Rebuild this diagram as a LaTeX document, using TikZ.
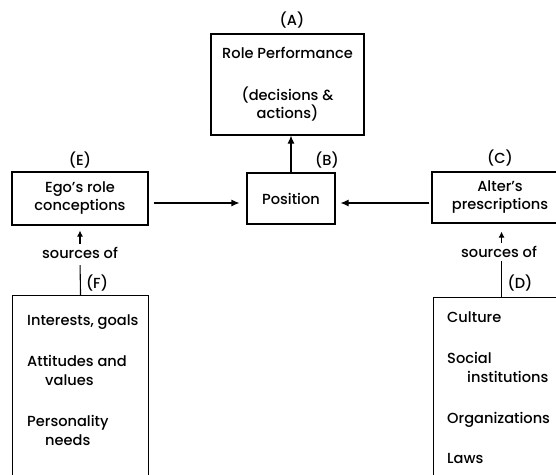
\documentclass[tikz,border=0pt]{standalone}
\usepackage{fontspec}
\setmainfont{Poppins}[UprightFont=* Medium]
\usetikzlibrary{arrows.meta}
\begin{document}
\begin{tikzpicture}[
    x=1pt, y=-1pt,
    font=\fontsize{14.6}{18}\selectfont,
    box/.style={rectangle, draw, line width=1.1pt, inner sep=0pt},
    lbl/.style={inner sep=1pt},
    list/.style={align=left, inner sep=0pt, anchor=north west, font=\fontsize{14.6}{19}\selectfont},
    arrow/.style={-{Latex[length=8pt,width=7pt]}, line width=1.1pt},
    small arrow/.style={-{Latex[length=6pt,width=6pt]}, line width=1.1pt},
    line/.style={-, line width=1.1pt}
  ]
  \useasboundingbox (0,0) rectangle (556,474);

  % Role performance (A)
  \node[lbl] (labA) at (292,20) {(A)};
  \node[box, align=center, minimum width=153, minimum height=101] (perf) at (287.5,84.5)
    {Role Performance\\[24pt](decisions \&\\actions)};

  % Position (B)
  \node[box, minimum width=88, minimum height=51] (pos) at (291,198.5) {Position};
  \node[lbl] (labB) at (327,160) {(B)};

  % Ego (E)
  \node[lbl] (labE) at (80,160) {(E)};
  \node[box, align=center, minimum width=136, minimum height=53] (ego) at (80,198.5)
    {Ego’s role\\conceptions};

  % Alter (C)
  \node[lbl] (labC) at (500,158) {(C)};
  \node[box, align=center, minimum width=136, minimum height=51] (alter) at (500,197.5)
    {Alter’s\\prescriptions};

  % sources
  \node (srcE) at (80,253) {sources of};
  \node (srcC) at (499,252) {sources of};

  % Ego's sources (F)
  \node[box, minimum width=136, minimum height=200, anchor=north west] (interests) at (12,295) {};
  \node[lbl] (labF) at (97,283) {(F)};
  \node[list] (Flist) at (27,314)
    {Interests, goals\\[22pt]Attitudes and\\\hspace*{18pt}values\\[22pt]Personality\\\hspace*{18pt}needs};

  % Alter's sources (D)
  \node[box, minimum width=136, minimum height=200, anchor=north west] (society) at (433,297) {};
  \node[lbl] (labD) at (520,283) {(D)};
  \node[list] (Dlist) at (447,311)
    {Culture\\[22pt]Social\\\hspace*{20pt}institutions\\[22pt]Organizations\\[21pt]Laws};

  % connectors
  \draw[arrow] (pos.north) -- (pos.north |- perf.south);
  \draw[arrow, shorten <=5pt, shorten >=7pt] ([yshift=-4.5pt]ego.east) -- ([yshift=-4.5pt]pos.west);
  \draw[arrow, shorten <=2pt, shorten >=5pt] ([yshift=-5.5pt]alter.west) -- ([yshift=-4.5pt]pos.east);
  \draw[small arrow, shorten >=5pt] (srcE.north) -- (ego.south);
  \draw[line, shorten >=3pt] (interests.north) -- (srcE.south);
  \draw[small arrow, shorten >=8pt] (society.north |- srcC.north) -- (society.north |- alter.south);
  \draw[line] (society.north) -- (society.north |- srcC.south);

\end{tikzpicture}
\end{document}
